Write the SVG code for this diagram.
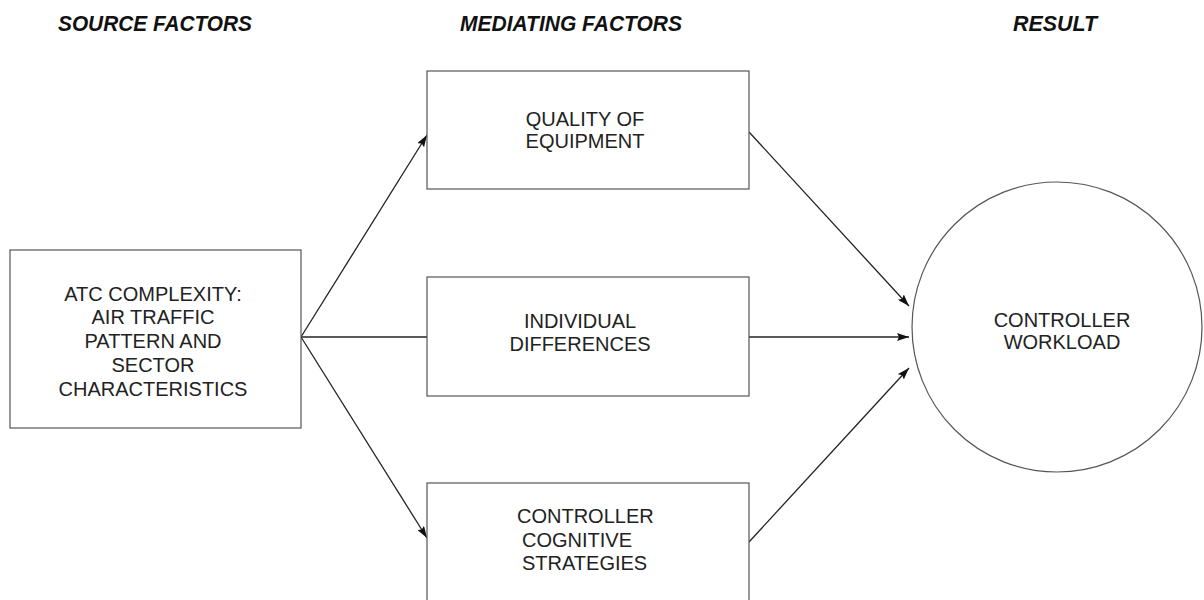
<svg xmlns="http://www.w3.org/2000/svg" width="1204" height="600" viewBox="0 0 1204 600">
  <style>
    .hdr { font-family: "Liberation Sans", Arial, sans-serif; font-size: 21.5px; font-weight: bold; font-style: italic; fill: #111; text-anchor: middle; }
    .lbl { font-family: "Liberation Sans", Arial, sans-serif; font-size: 20px; fill: #222; text-anchor: middle; }
    .box { fill: #fff; stroke: #555; stroke-width: 1.2; }
    .edge { fill: none; stroke: #222; stroke-width: 1.3; }
  </style>
  <defs>
    <marker id="arr" viewBox="0 0 12 8" refX="12" refY="4" markerWidth="12" markerHeight="8" markerUnits="userSpaceOnUse" orient="auto">
      <path d="M0,0 L12,4 L0,8 L2,4 Z" fill="#111"/>
    </marker>
  </defs>
  <rect width="1204" height="600" fill="#fff"/>

  <g id="headers">
    <text class="hdr" x="155" y="31" textLength="194" lengthAdjust="spacingAndGlyphs">SOURCE FACTORS</text>
    <text class="hdr" x="571" y="31" textLength="222" lengthAdjust="spacingAndGlyphs">MEDIATING FACTORS</text>
    <text class="hdr" x="1055" y="31" textLength="84" lengthAdjust="spacingAndGlyphs">RESULT</text>
  </g>

  <g id="connectors">
    <line class="edge" x1="301" y1="337" x2="427" y2="135" marker-end="url(#arr)"/>
    <line class="edge" x1="301" y1="337" x2="427" y2="337"/>
    <line class="edge" x1="301" y1="337" x2="427" y2="538" marker-end="url(#arr)"/>
    <line class="edge" x1="749" y1="132" x2="909" y2="306" marker-end="url(#arr)"/>
    <line class="edge" x1="749" y1="337" x2="909" y2="337" marker-end="url(#arr)"/>
    <line class="edge" x1="749" y1="542" x2="909" y2="368" marker-end="url(#arr)"/>
  </g>

  <g id="source">
    <rect class="box" x="10" y="250" width="291" height="178"/>
    <text class="lbl" x="153" y="301">ATC COMPLEXITY:</text>
    <text class="lbl" x="153" y="324">AIR TRAFFIC</text>
    <text class="lbl" x="153" y="348">PATTERN AND</text>
    <text class="lbl" x="153" y="372">SECTOR</text>
    <text class="lbl" x="153" y="396">CHARACTERISTICS</text>
  </g>

  <g id="equipment">
    <rect class="box" x="427" y="71" width="322" height="118"/>
    <text class="lbl" x="585" y="126">QUALITY OF</text>
    <text class="lbl" x="585" y="148">EQUIPMENT</text>
  </g>

  <g id="individual">
    <rect class="box" x="427" y="277" width="322" height="119"/>
    <text class="lbl" x="580" y="328">INDIVIDUAL</text>
    <text class="lbl" x="580" y="351">DIFFERENCES</text>
  </g>

  <g id="strategies">
    <rect class="box" x="427" y="483" width="322" height="130"/>
    <text class="lbl" x="517" y="523" style="text-anchor:start">CONTROLLER</text>
    <text class="lbl" x="522" y="547" style="text-anchor:start">COGNITIVE</text>
    <text class="lbl" x="522" y="570" style="text-anchor:start">STRATEGIES</text>
  </g>

  <g id="workload">
    <circle cx="1057" cy="327" r="145" fill="#fff" stroke="#555" stroke-width="1.2"/>
    <text class="lbl" x="1062" y="327">CONTROLLER</text>
    <text class="lbl" x="1062" y="349">WORKLOAD</text>
  </g>
</svg>
